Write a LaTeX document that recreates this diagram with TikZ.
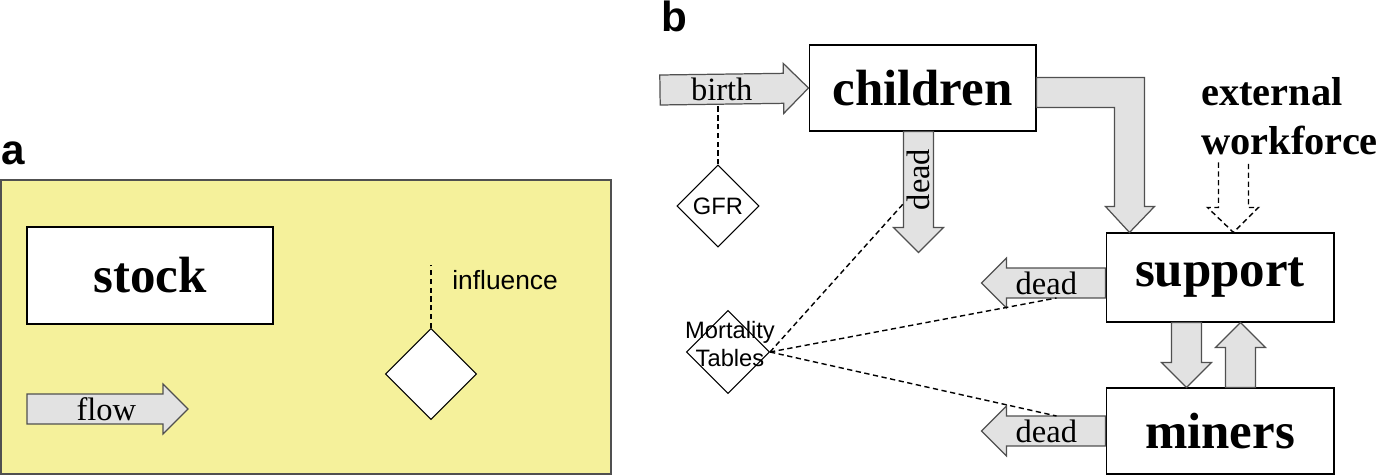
\documentclass[tikz,border=0pt]{standalone}
\usepackage{fontspec}
\setmainfont{Liberation Serif}
\setsansfont{Liberation Sans}
\usetikzlibrary{calc,shapes.geometric}

\definecolor{panelyellow}{RGB}{245,241,155}
\definecolor{flowgrey}{RGB}{226,226,226}
\definecolor{flowline}{RGB}{80,80,80}

\tikzset{
  stockbox/.style={draw,fill=white,inner sep=0pt,line width=0.6pt,
    font=\bfseries\fontsize{29}{32}\selectfont},
  gate/.style={draw,fill=white,diamond,inner sep=0pt,line width=0.6pt,
    minimum width=#1,minimum height=#1},
  flowbody/.style={draw=flowline,fill=flowgrey,line width=0.7pt},
  flowtext/.style={inner sep=0pt,font=\fontsize{18.5}{20}\selectfont},
  link/.style={line width=0.8pt,dash pattern=on 3pt off 2pt},
  tag/.style={inner sep=0pt,font=\sffamily\bfseries\fontsize{24}{26}\selectfont}
}

\def\shaftw{0.3cm}
\def\headw{0.5cm}
\def\headlen{0.5cm}
% fat flow arrow: from, tip, label name, label text, label options
\newcommand\fatflow[5]{%
  \coordinate (hb) at ($(#2)!\headlen!(#1)$);
  \draw[flowbody] ($(#1)!\shaftw!90:(#2)$) -- ($(hb)!\shaftw!90:(#2)$)
    -- ($(hb)!\headw!90:(#2)$) -- (#2) -- ($(hb)!\headw!-90:(#2)$)
    -- ($(hb)!\shaftw!-90:(#2)$) -- ($(#1)!\shaftw!-90:(#2)$) -- cycle;
  \node[flowtext,#5] (#3) at ($(#1)!0.5!(hb)$) {#4};
}

\begin{document}
\begin{tikzpicture}[x=0.02cm,y=-0.02cm]
\useasboundingbox (0,0) rectangle (1377,476);

% panel a
\node[tag,anchor=base] (taga) at (13,165) {a};
\draw[draw=flowline,fill=panelyellow,line width=0.6pt] (1,180) rectangle (611,474);
\node[stockbox,minimum width=4.92cm,minimum height=1.94cm] (stock) at (150,275.5) {stock};
\coordinate (flowsrc) at (27,409);
\coordinate (flowtip) at (188,409);
\fatflow{flowsrc}{flowtip}{flowlbl}{flow}{xshift=6.5pt}
\node[gate=1.82cm] (infl) at (431,374) {};
\coordinate (inftop) at (431,265);
\draw[link] (infl.north) -- (inftop);
\node[anchor=west,inner sep=0pt,font=\sffamily\fontsize{15}{17}\selectfont] (infltxt) at (452,280) {influence};

% panel b
\node[tag,anchor=base] (tagb) at (674,32) {b};
\node[stockbox,minimum width=4.54cm,minimum height=1.72cm] (children) at (922.5,88) {children};
\node[stockbox,minimum width=4.56cm,minimum height=1.78cm] (support) at (1220,277.5) {support};
\node[stockbox,minimum width=4.56cm,minimum height=1.72cm] (miners) at (1220,431) {miners};
\node[anchor=west,align=left,inner sep=0pt,font=\bfseries\fontsize{23}{28}\selectfont] (ext) at (1201,116) {external\\workforce};

\coordinate (birthsrc) at (660,90);
\fatflow{birthsrc}{children.west}{birthlbl}{birth}{}
\node[gate=1.64cm,label={[font=\sffamily\fontsize{13.5}{15}\selectfont]center:GFR}] (gfr) at (718,206) {};
\draw[link] (gfr.north) -- ($(gfr.north |- birthsrc)+(0,15)$);

\coordinate (cdsrc) at ($(children.south)+(-4,0)$);
\coordinate (cdtip) at ($(children.south)+(-4,121)$);
\fatflow{cdsrc}{cdtip}{cdlbl}{dead}{rotate=90}

\coordinate (etip) at ($(support.north west)+(24,0)$);
\draw[flowbody] ($(children.north east)+(0,33)$) -| ($(etip)+(15,-26)$) -- ++(10,0)
  -- (etip) -- ++(-24,-26) -- ++(9,0) |- ($(children.north east)+(0,63)$) -- cycle;

\coordinate (wtip) at ($(support.north west)+(128,0)$);
\draw[link] ($(wtip)+(-15,-70)$) -- ++(0,45) -- ++(-11,0) -- (wtip) -- ++(25,-25)
  -- ++(-10,0) -- ++(0,-45);

\coordinate (sdsrc) at ($(support.west)+(0,5.5)$);
\coordinate (sdtip) at ($(support.west)+(-124,5.5)$);
\fatflow{sdsrc}{sdtip}{sdlbl}{dead}{xshift=-5.5pt}
\coordinate (mdsrc) at (miners.west);
\coordinate (mdtip) at ($(miners.west)+(-124,0)$);
\fatflow{mdsrc}{mdtip}{mdlbl}{dead}{xshift=-5.5pt}

\coordinate (smsrc) at ($(support.south west)+(81,0)$);
\coordinate (smtip) at ($(miners.north west)+(81,0)$);
\fatflow{smsrc}{smtip}{smlbl}{}{}
\coordinate (mssrc) at ($(miners.north west)+(135,0)$);
\coordinate (mstip) at ($(support.south west)+(135,0)$);
\fatflow{mssrc}{mstip}{mslbl}{}{}

\node[gate=1.66cm] (mort) at (728,352) {};
\node[align=center,inner sep=0pt,font=\sffamily\fontsize{13.5}{16}\selectfont] (morttxt) at ($(mort)+(2,-8)$) {Mortality\\Tables};
\draw[link] (mort.east) -- ($(children.south)+(-19,72)$);
\draw[link] (mort.east) -- ($(support.west)+(-49,20.5)$);
\draw[link] (mort.east) -- ($(miners.west)+(-49,-15)$);
\end{tikzpicture}
\end{document}
